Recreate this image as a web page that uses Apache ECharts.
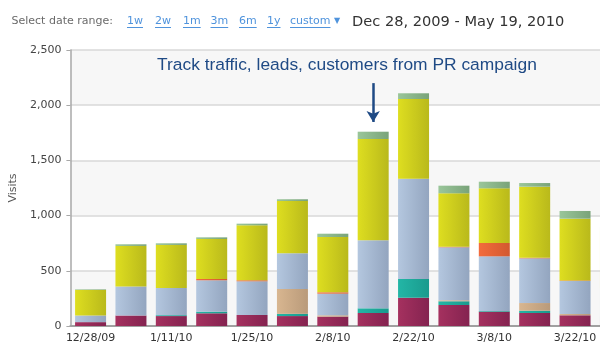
<!DOCTYPE html>
<html>
<head>
<meta charset="utf-8">
<script src="https://cdn.jsdelivr.net/npm/echarts@6/dist/echarts.min.js"></script>
<style>html,body{margin:0;padding:0;background:#fff;overflow:hidden;width:600px;height:350px}#c{width:640px;height:350px}</style>
</head>
<body>
<div id="c"></div>
<script>
// ---- data ----
const categories = ['12/28/09','1/4/10','1/11/10','1/18/10','1/25/10','2/1/10','2/8/10','2/15/10','2/22/10','3/1/10','3/8/10','3/15/10','3/22/10','3/29/10'];
const maroon = [35, 95, 90, 115, 100, 90, 85, 118, 256, 190, 130, 118, 97, 60];
const teal   = [0, 0, 8, 15, 0, 20, 0, 42, 170, 34, 6, 20, 0, 25];
const tan    = [0, 0, 0, 0, 0, 225, 12, 0, 0, 9, 0, 70, 12, 10];
const blue   = [60, 263, 246, 284, 305, 323, 196, 616, 908, 480, 495, 405, 299, 250];
const orange = [0, 0, 0, 12, 9, 0, 12, 0, 0, 5, 121, 5, 5, 0];
const yellow = [232, 367, 390, 362, 498, 474, 501, 918, 722, 484, 495, 644, 559, 520];
const green  = [5, 15, 15, 15, 15, 16, 30, 66, 52, 69, 60, 33, 70, 30];
const yTicks = [0, 500, 1000, 1500, 2000, 2500];
const rangeLinks = ['1w','2w','1m','3m','6m','1y','custom'];
const dateRange = 'Dec 28, 2009 - May 19, 2010';
const note = 'Track traffic, leads, customers from PR campaign';
const noteCategory = '2/15/10';
const arrowFrom = 2200, arrowTo = 1848;
const partialIndex = 13;

// ---- styles ----
const linkX = [127, 155, 183, 210.5, 239, 267, 290];
const seriesDefs = [
  ['Maroon', maroon, '#a5315f', '#842350'],
  ['Teal', teal, '#23b6a6', '#199a8d'],
  ['Tan', tan, '#d8b690', '#b99a7a'],
  ['Blue', blue, '#b4c7df', '#93a5bf'],
  ['Orange', orange, '#f36b3c', '#d2582f'],
  ['Yellow', yellow, '#dede20', '#b9b91b'],
  ['Green', green, '#9ac69a', '#79a379']
];
const grad = (a, b) => new echarts.graphic.LinearGradient(0, 0, 1, 0, [{offset: 0, color: a}, {offset: 1, color: b}]);

const ctx = document.createElement('canvas').getContext('2d');
const linkFont = '11px "DejaVu Sans"';
ctx.font = linkFont;

const graphics = [
  {type: 'text', style: {x: 11.5, y: 21, text: 'Select date range:', font: linkFont, fill: '#6a6a6a', verticalAlign: 'middle'}}
];
rangeLinks.forEach((t, i) => {
  const w = ctx.measureText(t).width;
  graphics.push({type: 'text', style: {x: linkX[i], y: 21, text: t, font: linkFont, fill: '#4f93dc', verticalAlign: 'middle'}});
  graphics.push({type: 'line', shape: {x1: linkX[i], y1: 27.5, x2: linkX[i] + w, y2: 27.5}, style: {stroke: '#4f93dc', lineWidth: 1}});
});
graphics.push({type: 'text', style: {x: 334, y: 21, text: '▼', font: '8px "DejaVu Sans"', fill: '#4f93dc', verticalAlign: 'middle'}});
graphics.push({type: 'text', style: {x: 352, y: 22, text: dateRange, font: '14.6px "DejaVu Sans"', fill: '#333333', verticalAlign: 'middle'}});
graphics.push({type: 'text', z: 100, style: {x: 157, y: 65, text: note, font: '17.4px "Liberation Sans"', fill: '#1f4a85', verticalAlign: 'middle'}});

const series = seriesDefs.map(([name, arr, c1, c2], si) => ({
  name, type: 'bar', stack: 'all', barWidth: 31,
  itemStyle: {color: grad(c1, c2)},
  emphasis: {disabled: true},
  data: arr.map((v, i) => i === partialIndex ? {value: v, itemStyle: {opacity: 0.3}} : v),
  markLine: si === 0 ? {
    silent: true, symbol: ['none', 'arrow'], symbolSize: [10, 11],
    lineStyle: {color: '#1f4a85', width: 2.5, type: 'solid'},
    label: {show: false},
    data: [[{coord: [noteCategory, arrowFrom]}, {coord: [noteCategory, arrowTo]}]]
  } : undefined
}));

const chart = echarts.init(document.getElementById('c'), null, {renderer: 'canvas', width: 640, height: 350});
chart.setOption({
  animation: false,
  backgroundColor: '#ffffff',
  grid: {left: 70, top: 50, bottom: 24, right: 4.4, containLabel: false},
  xAxis: {
    type: 'category', data: categories,
    axisLine: {lineStyle: {color: '#a0a0a0', width: 2}},
    axisTick: {show: false},
    axisLabel: {interval: 1, color: '#333', fontFamily: 'DejaVu Sans', fontSize: 11, margin: 7}
  },
  yAxis: {
    type: 'value', min: yTicks[0], max: yTicks[yTicks.length - 1], interval: yTicks[1] - yTicks[0],
    name: 'Visits', nameLocation: 'middle', nameGap: 45, nameRotate: 90,
    nameTextStyle: {color: '#555', fontFamily: 'DejaVu Sans', fontSize: 11},
    axisLine: {show: true, lineStyle: {color: '#a8a8a8', width: 1.5}},
    axisTick: {show: true, length: 4, lineStyle: {color: '#a8a8a8'}},
    axisLabel: {color: '#444', fontFamily: 'DejaVu Sans', fontSize: 11, margin: 9,
      formatter: v => v.toLocaleString('en-US')},
    splitLine: {lineStyle: {color: '#d9d9d9', width: 1.5}},
    splitArea: {show: true, areaStyle: {color: ['#f7f7f7', '#ffffff']}}
  },
  series,
  graphic: graphics
});
</script>
</body>
</html>
